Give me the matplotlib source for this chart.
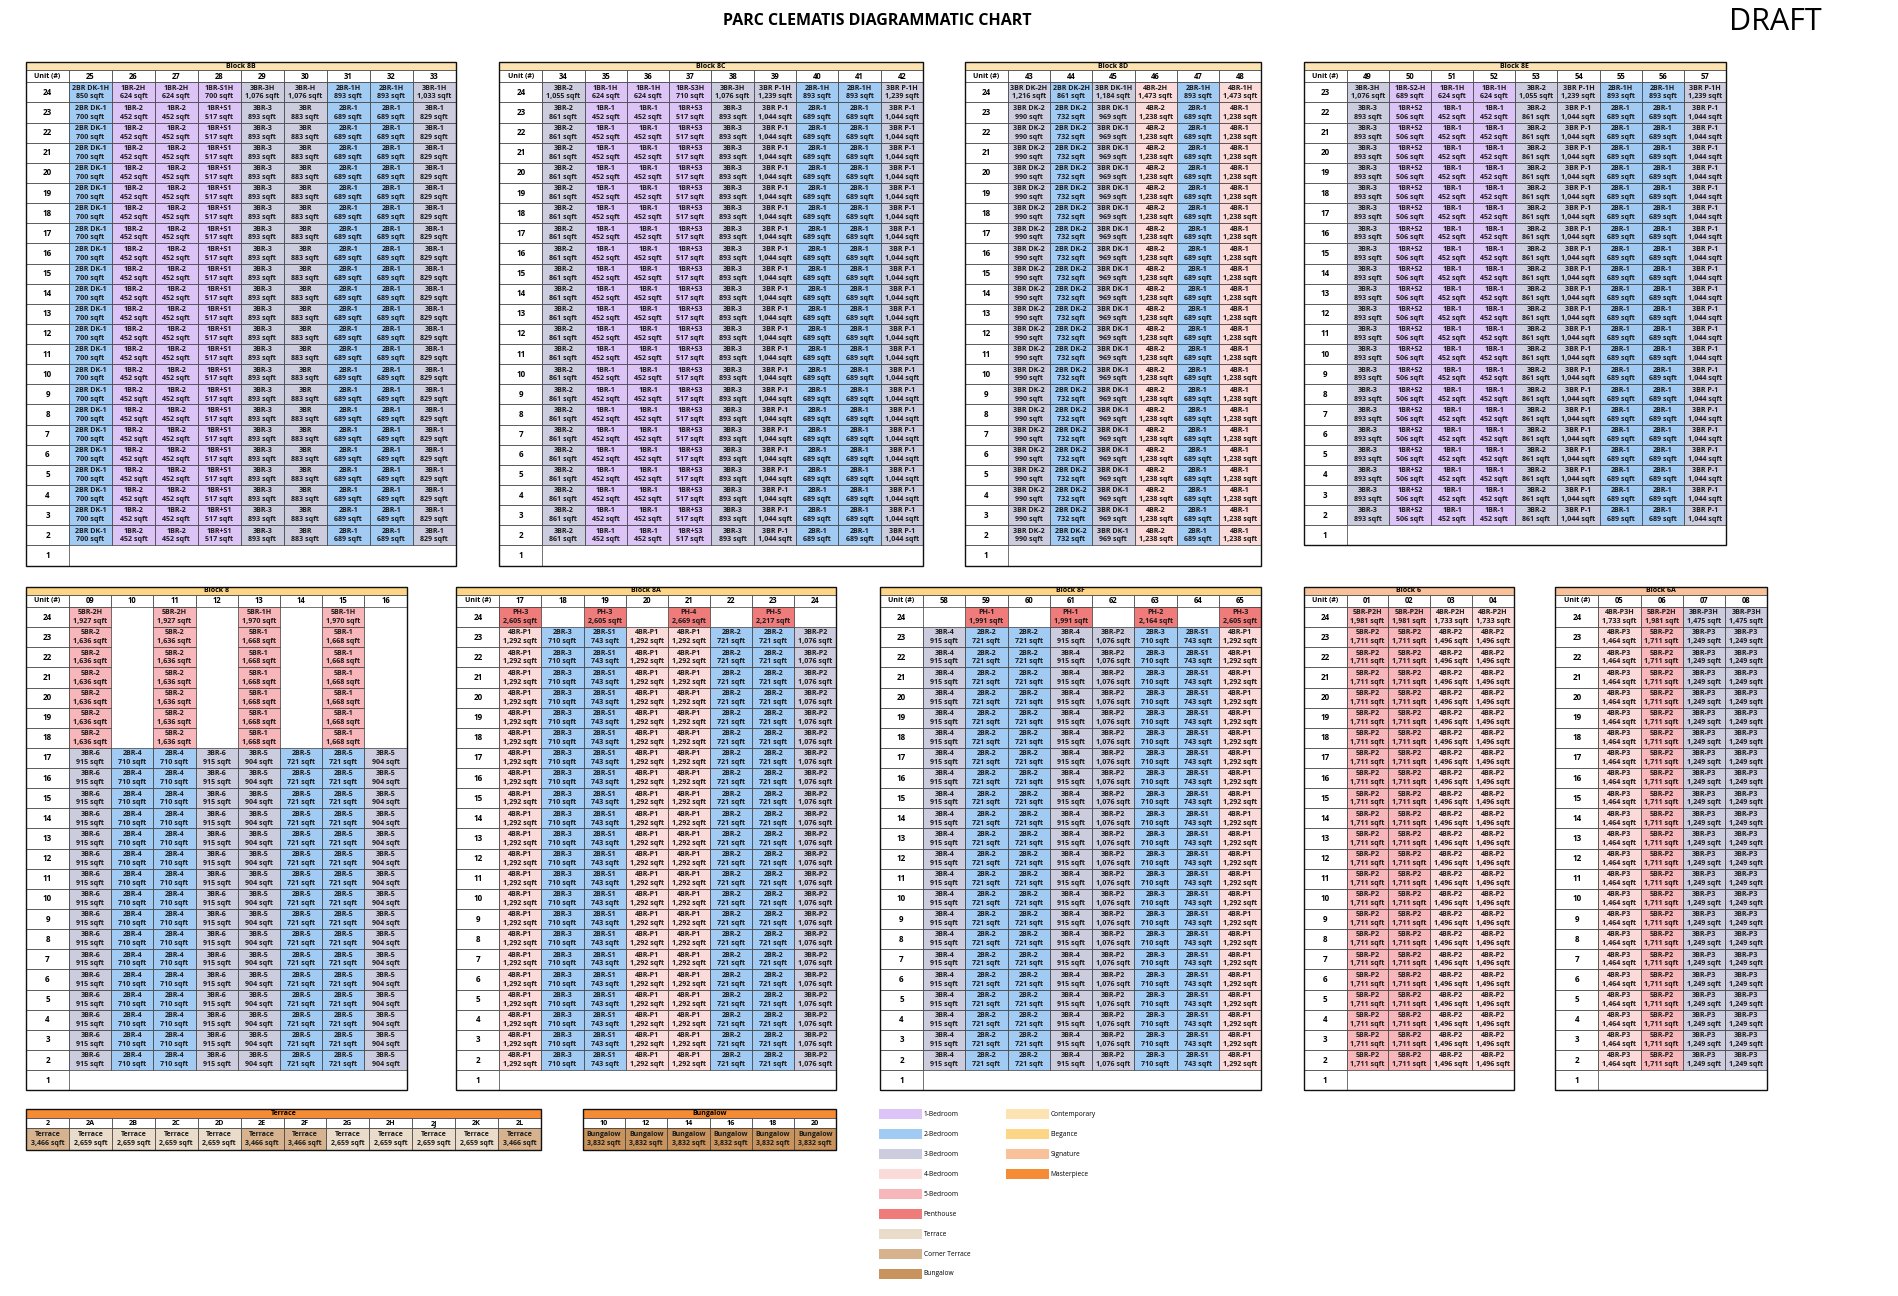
import matplotlib
matplotlib.use('Agg')
import matplotlib.pyplot as plt
from matplotlib.patches import Rectangle

plt.rcParams['font.family'] = ['Liberation Sans Narrow', 'Open Sans', 'DejaVu Sans']

COL = {'1BR': '#dcc4f6', '2BR': '#a2cbf4', '3BR': '#ccccdf', '4BR': '#fbdada',
       '5BR': '#f7b6b9', 'PH': '#ef7b7b', 'Terrace': '#eadccb', 'Corner': '#d6b38e',
       'Bungalow': '#c8935c', 'Contemporary': '#fde3b1', 'Elegance': '#fdd586',
       'Signature': '#f9c19a', 'Masterpiece': '#f68b35'}

# ---------------- data ----------------
b8b_units = ['25', '26', '27', '28', '29', '30', '31', '32', '33']
b8b_top = ['2BR DK-1H', '1BR-2H', '1BR-2H', '1BR-S1H', '3BR-3H', '3BR-H', '2BR-1H', '2BR-1H', '3BR-1H']
b8b_top_sqft = ['850', '624', '624', '700', '1,076', '1,076', '893', '893', '1,033']
b8b_typ = ['2BR DK-1', '1BR-2', '1BR-2', '1BR+S1', '3BR-3', '3BR', '2BR-1', '2BR-1', '3BR-1']
b8b_typ_sqft = ['700', '452', '452', '517', '893', '883', '689', '689', '829']

b8c_units = ['34', '35', '36', '37', '38', '39', '40', '41', '42']
b8c_top = ['3BR-2', '1BR-1H', '1BR-1H', '1BR-S3H', '3BR-3H', '3BR P-1H', '2BR-1H', '2BR-1H', '3BR P-1H']
b8c_top_sqft = ['1,055', '624', '624', '710', '1,076', '1,239', '893', '893', '1,239']
b8c_typ = ['3BR-2', '1BR-1', '1BR-1', '1BR+S3', '3BR-3', '3BR P-1', '2BR-1', '2BR-1', '3BR P-1']
b8c_typ_sqft = ['861', '452', '452', '517', '893', '1,044', '689', '689', '1,044']

b8d_units = ['43', '44', '45', '46', '47', '48']
b8d_top = ['3BR DK-2H', '2BR DK-2H', '3BR DK-1H', '4BR-2H', '2BR-1H', '4BR-1H']
b8d_top_sqft = ['1,216', '861', '1,184', '1,473', '893', '1,473']
b8d_typ = ['3BR DK-2', '2BR DK-2', '3BR DK-1', '4BR-2', '2BR-1', '4BR-1']
b8d_typ_sqft = ['990', '732', '969', '1,238', '689', '1,238']

b8e_units = ['49', '50', '51', '52', '53', '54', '55', '56', '57']
b8e_top = ['3BR-3H', '1BR-S2-H', '1BR-1H', '1BR-1H', '3BR-2', '3BR P-1H', '2BR-1H', '2BR-1H', '3BR P-1H']
b8e_top_sqft = ['1,076', '689', '624', '624', '1,055', '1,239', '893', '893', '1,239']
b8e_typ = ['3BR-3', '1BR+S2', '1BR-1', '1BR-1', '3BR-2', '3BR P-1', '2BR-1', '2BR-1', '3BR P-1']
b8e_typ_sqft = ['893', '506', '452', '452', '861', '1,044', '689', '689', '1,044']

b8_units = ['09', '10', '11', '12', '13', '14', '15', '16']
b8_top = ['5BR-2H', '', '5BR-2H', '', '5BR-1H', '', '5BR-1H', '']
b8_top_sqft = ['1,927', '', '1,927', '', '1,970', '', '1,970', '']
b8_up = ['5BR-2', '', '5BR-2', '', '5BR-1', '', '5BR-1', '']
b8_up_sqft = ['1,636', '', '1,636', '', '1,668', '', '1,668', '']
b8_typ = ['3BR-6', '2BR-4', '2BR-4', '3BR-6', '3BR-5', '2BR-5', '2BR-5', '3BR-5']
b8_typ_sqft = ['915', '710', '710', '915', '904', '721', '721', '904']

b8a_units = ['17', '18', '19', '20', '21', '22', '23', '24']
b8a_top = ['PH-3', '', 'PH-3', '', 'PH-4', '', 'PH-5', '']
b8a_top_sqft = ['2,605', '', '2,605', '', '2,669', '', '2,217', '']
b8a_typ = ['4BR-P1', '2BR-3', '2BR-S1', '4BR-P1', '4BR-P1', '2BR-2', '2BR-2', '3BR-P2']
b8a_typ_sqft = ['1,292', '710', '743', '1,292', '1,292', '721', '721', '1,076']

b8f_units = ['58', '59', '60', '61', '62', '63', '64', '65']
b8f_top = ['', 'PH-1', '', 'PH-1', '', 'PH-2', '', 'PH-3']
b8f_top_sqft = ['', '1,991', '', '1,991', '', '2,164', '', '2,605']
b8f_typ = ['3BR-4', '2BR-2', '2BR-2', '3BR-4', '3BR-P2', '2BR-3', '2BR-S1', '4BR-P1']
b8f_typ_sqft = ['915', '721', '721', '915', '1,076', '710', '743', '1,292']

b6_units = ['01', '02', '03', '04']
b6_top = ['5BR-P2H', '5BR-P2H', '4BR-P2H', '4BR-P2H']
b6_top_sqft = ['1,981', '1,981', '1,733', '1,733']
b6_typ = ['5BR-P2', '5BR-P2', '4BR-P2', '4BR-P2']
b6_typ_sqft = ['1,711', '1,711', '1,496', '1,496']

b6a_units = ['05', '06', '07', '08']
b6a_top = ['4BR-P3H', '5BR-P2H', '3BR-P3H', '3BR-P3H']
b6a_top_sqft = ['1,733', '1,981', '1,475', '1,475']
b6a_typ = ['4BR-P3', '5BR-P2', '3BR-P3', '3BR-P3']
b6a_typ_sqft = ['1,464', '1,711', '1,249', '1,249']

terrace_units = ['2', '2A', '2B', '2C', '2D', '2E', '2F', '2G', '2H', '2J', '2K', '2L']
terrace_sqft = ['3,466', '2,659', '2,659', '2,659', '2,659', '3,466', '3,466', '2,659', '2,659', '2,659', '2,659', '3,466']
bungalow_units = ['10', '12', '14', '16', '18', '20']
bungalow_sqft = ['3,832'] * 6

legend_left = ['1-Bedroom', '2-Bedroom', '3-Bedroom', '4-Bedroom', '5-Bedroom', 'Penthouse', 'Terrace', 'Corner Terrace', 'Bungalow']
legend_left_keys = ['1BR', '2BR', '3BR', '4BR', '5BR', 'PH', 'Terrace', 'Corner', 'Bungalow']
legend_right = ['Contemporary', 'Elegance', 'Signature', 'Masterpiece']

# ---------------- drawing ----------------
fig = plt.figure(figsize=(18.98, 12.96), dpi=100)
ax = fig.add_axes([0, 0, 1, 1])
ax.set_xlim(0, 1568); ax.set_ylim(1071, 0); ax.axis('off')
EC = '#3a3a3a'

def kind(t):
    if t.startswith('PH'): return 'PH'
    return t[:3]

def cell(x, y, w, h, fc, lw=0.5):
    ax.add_patch(Rectangle((x, y), w, h, fc=fc, ec=EC, lw=lw))

def two_line(x, y, w, h, a, b, fs=5.1):
    ax.text(x + w / 2, y + h * 0.29, a, ha='center', va='center', fontsize=fs, fontweight='bold', color='#1a1a1a')
    ax.text(x + w / 2, y + h * 0.73, b + ' sqft', ha='center', va='center', fontsize=fs, fontweight='bold', color='#1a1a1a')

def block(x0, x1, y0, title, hc, units, top_floor, tiers):
    uw = 35.5; bh = 6.8; hh = 10.0; rh = 16.64
    n = len(units); cw = (x1 - x0 - uw) / n
    cell(x0, y0, x1 - x0, bh, hc)
    ax.text((x0 + x1) / 2, y0 + bh / 2, title, ha='center', va='center', fontsize=5, fontweight='bold')
    yh = y0 + bh
    cell(x0, yh, uw, hh, 'white')
    ax.text(x0 + uw / 2, yh + hh / 2, 'Unit (#)', ha='center', va='center', fontsize=5, fontweight='bold')
    for i, u in enumerate(units):
        cell(x0 + uw + i * cw, yh, cw, hh, 'white')
        ax.text(x0 + uw + (i + 0.5) * cw, yh + hh / 2, u, ha='center', va='center', fontsize=5.5, fontweight='bold')
    yr = yh + hh
    for k, fl in enumerate(range(top_floor, 0, -1)):
        y = yr + k * rh
        cell(x0, y, uw, rh, 'white')
        ax.text(x0 + uw / 2, y + rh / 2, str(fl), ha='center', va='center', fontsize=5.8, fontweight='bold')
        for hi, lo, types, sq in tiers:
            if lo <= fl <= hi:
                for i, t in enumerate(types):
                    if t:
                        xc = x0 + uw + i * cw
                        cell(xc, y, cw, rh, COL[kind(t)])
                        two_line(xc, y, cw, rh, t, sq[i])
    yb = yr + top_floor * rh
    ax.add_patch(Rectangle((x0, y0), x1 - x0, yb - y0, fc='none', ec='#111111', lw=1.0))

block(21.5, 376.5, 51.2, 'Block 8B', COL['Contemporary'], b8b_units, 24,
      [(24, 24, b8b_top, b8b_top_sqft), (23, 2, b8b_typ, b8b_typ_sqft)])
block(412.5, 762.5, 51.2, 'Block 8C', COL['Contemporary'], b8c_units, 24,
      [(24, 24, b8c_top, b8c_top_sqft), (23, 2, b8c_typ, b8c_typ_sqft)])
block(797, 1042, 51.2, 'Block 8D', COL['Contemporary'], b8d_units, 24,
      [(24, 24, b8d_top, b8d_top_sqft), (23, 2, b8d_typ, b8d_typ_sqft)])
block(1077, 1426, 51.2, 'Block 8E', COL['Contemporary'], b8e_units, 23,
      [(23, 23, b8e_top, b8e_top_sqft), (22, 2, b8e_typ, b8e_typ_sqft)])

block(21.5, 336, 484.8, 'Block 8', COL['Elegance'], b8_units, 24,
      [(24, 24, b8_top, b8_top_sqft), (23, 18, b8_up, b8_up_sqft), (17, 2, b8_typ, b8_typ_sqft)])
block(377, 691, 484.8, 'Block 8A', COL['Elegance'], b8a_units, 24,
      [(24, 24, b8a_top, b8a_top_sqft), (23, 2, b8a_typ, b8a_typ_sqft)])
block(727, 1042, 484.8, 'Block 8F', COL['Elegance'], b8f_units, 24,
      [(24, 24, b8f_top, b8f_top_sqft), (23, 2, b8f_typ, b8f_typ_sqft)])
block(1077, 1250.5, 484.8, 'Block 6', COL['Signature'], b6_units, 24,
      [(24, 24, b6_top, b6_top_sqft), (23, 2, b6_typ, b6_typ_sqft)])
block(1285, 1460, 484.8, 'Block 6A', COL['Signature'], b6a_units, 24,
      [(24, 24, b6a_top, b6a_top_sqft), (23, 2, b6a_typ, b6a_typ_sqft)])

def strip(x0, x1, y0, title, units, label, sqft, colors):
    n = len(units); cw = (x1 - x0) / n
    cell(x0, y0, x1 - x0, 7.5, COL['Masterpiece'])
    ax.text((x0 + x1) / 2, y0 + 3.75, title, ha='center', va='center', fontsize=5, fontweight='bold')
    for i, u in enumerate(units):
        x = x0 + i * cw
        cell(x, y0 + 7.5, cw, 8.5, 'white')
        ax.text(x + cw / 2, y0 + 11.75, u, ha='center', va='center', fontsize=5.2, fontweight='bold')
        cell(x, y0 + 16, cw, 17.5, colors[i])
        two_line(x, y0 + 16, cw, 17.5, label, sqft[i], fs=5)
    ax.add_patch(Rectangle((x0, y0), x1 - x0, 33.5, fc='none', ec='#111111', lw=1.0))

strip(21.5, 447, 916.5, 'Terrace', terrace_units, 'Terrace', terrace_sqft,
      [COL['Corner'] if s == '3,466' else COL['Terrace'] for s in terrace_sqft])
strip(481.5, 691, 916.5, 'Bungalow', bungalow_units, 'Bungalow', bungalow_sqft,
      [COL['Bungalow']] * len(bungalow_units))

# legend
for i, (lab, key) in enumerate(zip(legend_left, legend_left_keys)):
    yc = 920.8 + i * 16.5
    ax.add_patch(Rectangle((726.5, yc - 4.2), 35, 8.4, fc=COL[key], ec='none'))
    ax.text(763, yc, lab, ha='left', va='center', fontsize=4.8)
for i, lab in enumerate(legend_right):
    yc = 920.8 + i * 16.5
    ax.add_patch(Rectangle((831.5, yc - 4.2), 35, 8.4, fc=COL[lab], ec='none'))
    ax.text(868, yc, lab, ha='left', va='center', fontsize=4.8)

ax.text(724.5, 17, 'PARC CLEMATIS DIAGRAMMATIC CHART', ha='center', va='center', fontsize=11.5, fontweight='bold')
ax.text(1467, 18, 'DRAFT', ha='center', va='center', fontsize=22)

fig.savefig('out.png', dpi=100)
